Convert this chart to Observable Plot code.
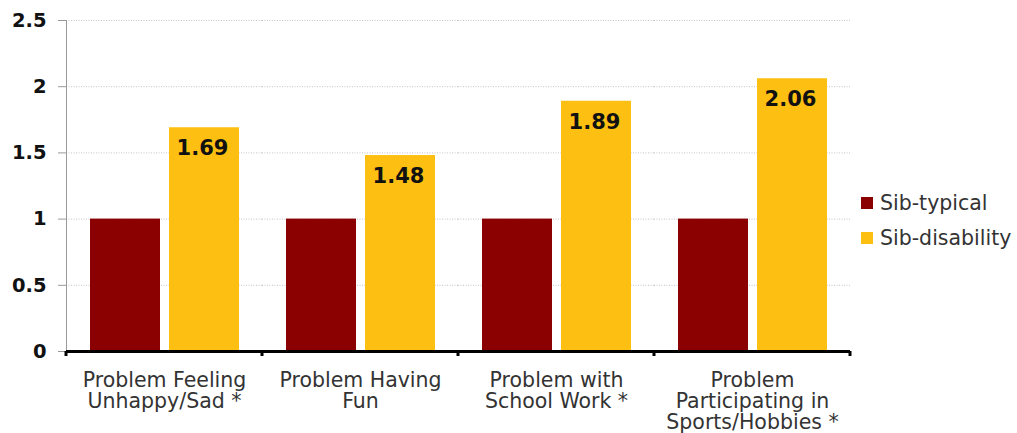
<!DOCTYPE html>
<html><head><meta charset="utf-8">
<script src="https://cdn.jsdelivr.net/npm/d3@7"></script>
<script src="https://cdn.jsdelivr.net/npm/@observablehq/plot@0.6"></script>
<style>
body{margin:0;background:#fff;}
#wrap{position:relative;width:1017px;height:433px;font-family:"DejaVu Sans",sans-serif;overflow:hidden;}
.legend{position:absolute;left:861px;top:185px;font-size:20.5px;color:#333;}
.legend div{display:flex;align-items:center;height:35px;}
.legend .sw{width:12px;height:12px;margin-right:7px;display:inline-block;}
</style></head><body><div id="wrap"></div>
<script>
const categories = ["Problem Feeling Unhappy/Sad *", "Problem Having Fun", "Problem with School Work *", "Problem Participating in Sports/Hobbies *"];
const tickLabels = ["Problem Feeling\nUnhappy/Sad *", "Problem Having\nFun", "Problem with\nSchool Work *", "Problem\nParticipating in\nSports/Hobbies *"];
const seriesNames = ["Sib-typical", "Sib-disability"];
const sibTypical = [1, 1, 1, 1];
const sibDisability = [1.69, 1.48, 1.89, 2.06];
const colors = ["#8b0000", "#fdbf12"];
const yTicks = [0, 0.5, 1, 1.5, 2, 2.5];

const data = [];
categories.forEach((c, i) => {
  data.push({category: c, series: seriesNames[0], value: sibTypical[i]});
  data.push({category: c, series: seriesNames[1], value: sibDisability[i]});
});
const labelData = data.filter(d => d.series === seriesNames[1]);

const plot = Plot.plot({
  width: 1017, height: 433,
  marginLeft: 66, marginRight: 167, marginTop: 20, marginBottom: 82,
  style: {fontFamily: "DejaVu Sans, sans-serif", background: "white", overflow: "visible"},
  fx: {domain: categories, padding: 0, label: null},
  x: {domain: seriesNames, paddingInner: 0.114, paddingOuter: 0.291, axis: null},
  y: {domain: [0, 2.5], label: null},
  color: {domain: seriesNames, range: colors},
  marks: [
    Plot.ruleY(yTicks.filter(d => d > 0), {stroke: "#c4c4c4", strokeDasharray: "1,1.5"}),
    Plot.barY(data, {fx: "category", x: "series", y: "value", fill: "series"}),
    Plot.text(labelData, {fx: "category", x: "series", y: "value", text: d => d.value.toFixed(2), dx: -2, dy: 21, fontWeight: "bold", fontSize: 21, fill: "#111"}),
    Plot.frame({anchor: "left", facetAnchor: "left", stroke: "#999"}),
    Plot.ruleY([0], {stroke: "black", strokeWidth: 3}),
    Plot.axisY({ticks: yTicks, tickSize: 8, tickPadding: 12, fontSize: 19.5, fontWeight: "bold", stroke: "#999", fill: "#111", label: null, tickFormat: d => String(d)}),
    Plot.axisFx({anchor: "bottom", tickSize: 0, tickPadding: 20, fontSize: 20.5, fill: "#333", lineHeight: 1.03, label: null, tickFormat: d => tickLabels[categories.indexOf(d)]})
  ]
});

// small boundary ticks under the baseline, placed with the library's fx and y scales
const fxs = plot.scale("fx");
const ys = plot.scale("y");
const edges = categories.map(c => fxs.apply(c)).concat([fxs.apply(categories[categories.length - 1]) + fxs.bandwidth]);
const y0 = ys.apply(0);
d3.select(plot).append("g").selectAll("line").data(edges).join("line")
  .attr("x1", d => d).attr("x2", d => d)
  .attr("y1", y0).attr("y2", y0 + 5)
  .attr("stroke", "black").attr("stroke-width", 3);

const wrap = document.getElementById("wrap");
wrap.appendChild(plot);
const legend = document.createElement("div");
legend.className = "legend";
seriesNames.forEach((s, i) => {
  const row = document.createElement("div");
  row.innerHTML = `<span class="sw" style="background:${colors[i]}"></span><span>${s}</span>`;
  legend.appendChild(row);
});
wrap.appendChild(legend);
</script></body></html>
